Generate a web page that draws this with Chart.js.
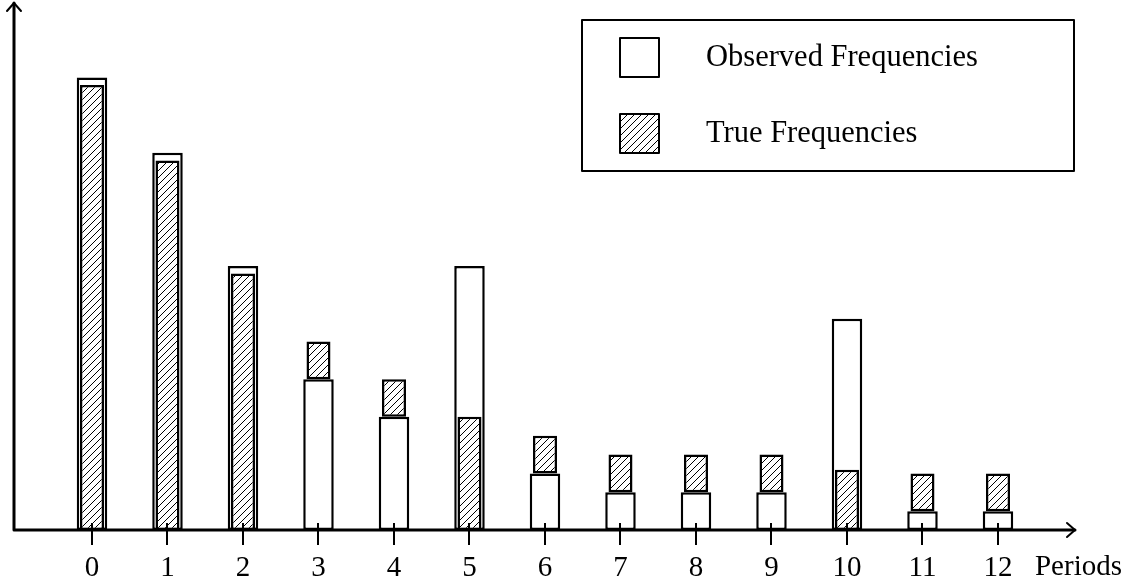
<!DOCTYPE html>
<html>
<head>
<meta charset="utf-8">
<script src="https://cdn.jsdelivr.net/npm/chart.js@4"></script>
<style>
  html, body { margin: 0; padding: 0; background: #fff; }
  #wrap { width: 1127px; height: 585px; }
</style>
</head>
<body>
<div id="wrap"><canvas id="freqChart" width="1127" height="585"></canvas></div>
<script>
const periods = [0, 1, 2, 3, 4, 5, 6, 7, 8, 9, 10, 11, 12];
const observed = [12, 10, 7, 4, 3, 7, 1.5, 1, 1, 1, 5.6, 0.5, 0.5];
const trueFreq = [11.8, 9.8, 6.8, 5, 4, 3, 2.5, 2, 2, 2, 1.6, 1.5, 1.5];
const axisTitle = "Periods";

const FONT = "'Liberation Serif', 'Times New Roman', serif";

// diagonal hatch fill
function makeHatch() {
  const c = document.createElement("canvas");
  c.width = 7; c.height = 7;
  const g = c.getContext("2d");
  g.fillStyle = "#fff";
  g.fillRect(0, 0, 7, 7);
  g.strokeStyle = "#000";
  g.lineWidth = 1;
  [-7, 0, 7].forEach(k => {
    g.beginPath();
    g.moveTo(k - 1, 8);
    g.lineTo(k + 8, -1);
    g.stroke();
  });
  return g.createPattern(c, "repeat");
}
const hatch = makeHatch();

// true bars sit on top of the observed bar when they are taller
const trueBars = periods.map((p, i) =>
  ({ x: p, y: trueFreq[i] > observed[i] ? [observed[i], trueFreq[i]] : [0, trueFreq[i]] })
);
const obsBars = periods.map((p, i) => ({ x: p, y: observed[i] }));

const axesPlugin = {
  id: "axesPlugin",
  afterDatasetsDraw(chart) {
    const ctx = chart.ctx;
    const xs = chart.scales.x;
    const area = chart.chartArea;
    const x0 = area.left, y0 = area.bottom;
    ctx.save();
    ctx.strokeStyle = "#000";
    ctx.lineCap = "round";
    ctx.lineJoin = "round";

    // axes
    ctx.lineWidth = 3;
    ctx.beginPath();
    ctx.moveTo(x0, y0);
    ctx.lineTo(x0, area.top + 1);
    ctx.moveTo(x0, y0);
    ctx.lineTo(area.right, y0);
    ctx.stroke();

    // arrow heads
    ctx.lineWidth = 2;
    ctx.beginPath();
    ctx.moveTo(x0 - 7, area.top + 9);
    ctx.lineTo(x0, area.top + 1);
    ctx.lineTo(x0 + 7, area.top + 9);
    ctx.moveTo(area.right - 8, y0 - 7);
    ctx.lineTo(area.right, y0);
    ctx.lineTo(area.right - 8, y0 + 7);
    ctx.stroke();

    // tick marks
    ctx.lineWidth = 2;
    ctx.lineCap = "butt";
    ctx.beginPath();
    periods.forEach(p => {
      const px = Math.round(xs.getPixelForValue(p));
      ctx.moveTo(px, y0 - 7);
      ctx.lineTo(px, y0 + 15);
    });
    ctx.stroke();

    // axis name after the last tick
    ctx.fillStyle = "#000";
    ctx.font = "29px " + FONT;
    ctx.textBaseline = "middle";
    ctx.textAlign = "left";
    ctx.fillText(axisTitle, xs.getPixelForValue(periods[periods.length - 1]) + 37, 567);

    // legend box
    ctx.lineWidth = 2;
    ctx.lineCap = "butt";
    ctx.strokeRect(582, 20, 492, 151);
    const rows = [
      { ds: chart.data.datasets[1], y: 38 },
      { ds: chart.data.datasets[0], y: 114 }
    ];
    rows.forEach(r => {
      ctx.fillStyle = r.ds.backgroundColor;
      ctx.fillRect(620, r.y, 39, 39);
      ctx.strokeRect(620, r.y, 39, 39);
      ctx.fillStyle = "#000";
      ctx.font = "30.5px " + FONT;
      ctx.fillText(r.ds.label, 706, r.y + 20);
    });
    ctx.restore();
  }
};

new Chart(document.getElementById("freqChart"), {
  type: "bar",
  data: {
    datasets: [
      {
        label: "True Frequencies",
        data: trueBars,
        backgroundColor: hatch,
        borderColor: "#000",
        borderWidth: 2.5,
        borderSkipped: false,
        grouped: false,
        barPercentage: 0.318,
        categoryPercentage: 1,
        order: 1
      },
      {
        label: "Observed Frequencies",
        data: obsBars,
        backgroundColor: "#fff",
        borderColor: "#000",
        borderWidth: 2.5,
        borderSkipped: false,
        grouped: false,
        barPercentage: 0.404,
        categoryPercentage: 1,
        order: 2
      }
    ]
  },
  options: {
    responsive: false,
    animation: false,
    layout: { padding: { top: 2, left: 14, right: 52, bottom: 0 } },
    plugins: {
      legend: { display: false },
      tooltip: { enabled: false }
    },
    scales: {
      x: {
        type: "linear",
        offset: false,
        min: -1.033,
        max: 13.02,
        afterBuildTicks: s => { s.ticks = periods.map(v => ({ value: v })); },
        afterFit: s => { s.height = 55; },
        grid: { display: false, drawTicks: false },
        border: { display: false },
        ticks: {
          color: "#000",
          padding: 21,
          font: { family: FONT, size: 29 },
          maxRotation: 0,
          autoSkip: false
        }
      },
      y: {
        display: false,
        min: 0,
        max: 14
      }
    }
  },
  plugins: [axesPlugin]
});
</script>
</body>
</html>
